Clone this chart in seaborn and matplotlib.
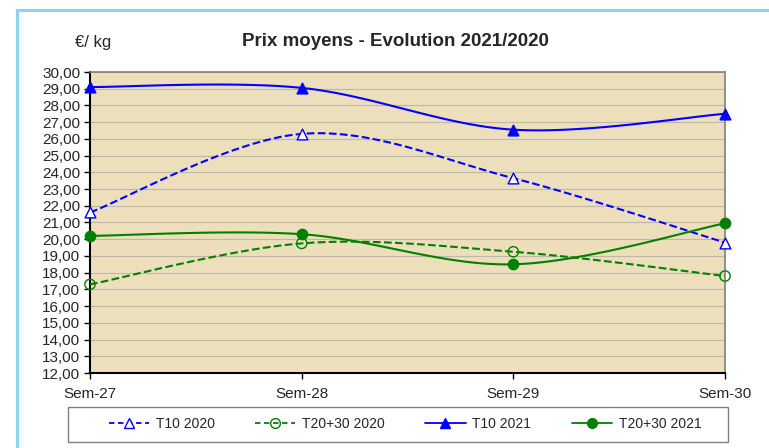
import numpy as np
import pandas as pd
import seaborn as sns
import matplotlib.pyplot as plt
from matplotlib.lines import Line2D
from matplotlib.patches import Rectangle

weeks = ['Sem-27', 'Sem-28', 'Sem-29', 'Sem-30']
t10_2020 = [21.6, 26.3, 23.65, 19.8]
t2030_2020 = [17.3, 19.75, 19.25, 17.8]
t10_2021 = [29.1, 29.05, 26.55, 27.5]
t2030_2021 = [20.2, 20.3, 18.5, 20.95]


def smooth(vals, n=40):
    # Excel-like smoothed line (Catmull-Rom as cubic Bezier)
    p = np.column_stack([np.arange(len(vals)), vals]).astype(float)
    ext = np.vstack([p[0], p, p[-1]])
    out = []
    for i in range(len(p) - 1):
        p0, p1, p2, p3 = ext[i], ext[i + 1], ext[i + 2], ext[i + 3]
        c1 = p1 + (p2 - p0) / 6
        c2 = p2 - (p3 - p1) / 6
        t = np.linspace(0, 1, n)[:, None]
        seg = (1 - t) ** 3 * p1 + 3 * (1 - t) ** 2 * t * c1 + 3 * (1 - t) * t ** 2 * c2 + t ** 3 * p2
        out.append(seg if i == 0 else seg[1:])
    out = np.vstack(out)
    return out[:, 0], out[:, 1]


sns.set_theme(style='white')
plt.rcParams['font.family'] = ['Liberation Sans', 'DejaVu Sans']

series = [
    ('T10 2020', t10_2020, '#0000FF', '--', '^', 'white'),
    ('T20+30 2020', t2030_2020, '#008000', '--', 'o', 'none'),
    ('T10 2021', t10_2021, '#0000FF', '-', '^', '#0000FF'),
    ('T20+30 2021', t2030_2021, '#008000', '-', 'o', '#008000'),
]

fig = plt.figure(figsize=(7.69, 4.48), dpi=100)
# outer chart frame (bottom edge falls outside the image)
fig.patches.append(Rectangle((17 / 769, -20 / 448), 760 / 769, 458 / 448,
                             transform=fig.transFigure, fill=False,
                             edgecolor='#8ED3F0', linewidth=2.2))
# legend frame
fig.patches.append(Rectangle((68 / 769, 1 - 442 / 448), 660 / 769, 35 / 448,
                             transform=fig.transFigure, fill=False,
                             edgecolor='#808080', linewidth=1.0))
ax = fig.add_axes([90 / 769, 1 - 373 / 448, 635 / 769, 301 / 448])
ax.set_facecolor('#EDDFBB')

for lab, vals, col, ls, mk, mfc in series:
    xs, ys = smooth(vals)
    ax.plot(xs, ys, color=col, linestyle=ls, linewidth=1.5, zorder=3)
    df = pd.DataFrame({'x': range(len(weeks)), 'y': vals})
    sns.scatterplot(data=df, x='x', y='y', ax=ax, marker=mk, s=60 if mk == '^' else 55,
                    color=mfc if mfc != 'none' else 'none', edgecolor=col,
                    linewidth=1.0, zorder=4, clip_on=False, legend=False)

ax.set_xlim(0, 3)
ax.set_ylim(12, 30)
ax.set_yticks(np.arange(12, 31, 1))
ax.set_yticklabels([f'{v:.2f}'.replace('.', ',') for v in np.arange(12, 31, 1)], fontsize=11)
ax.set_xticks(range(len(weeks)))
ax.set_xticklabels(weeks, fontsize=11)
ax.set_xlabel('')
ax.set_ylabel('')
ax.grid(axis='y', color='#BDB8AC', linewidth=0.8)
ax.set_axisbelow(True)
ax.tick_params(axis='both', which='both', length=4, width=1, color='black', pad=3, left=True, bottom=True)
ax.tick_params(axis='x', direction='out', pad=6)
for s in ['left', 'bottom']:
    ax.spines[s].set_color('black')
    ax.spines[s].set_linewidth(1.5)
for s in ['top', 'right']:
    ax.spines[s].set_color('#808080')
    ax.spines[s].set_linewidth(1.2)

fig.text(395 / 769, 1 - 42 / 448, 'Prix moyens - Evolution 2021/2020', ha='center', va='center',
         fontsize=13.5, fontweight='bold')
fig.text(75 / 769, 1 - 42 / 448, '€/ kg', ha='left', va='center', fontsize=12)

handles = [Line2D([], [], color=col, linestyle=ls, linewidth=1.3, marker=mk,
                  markerfacecolor=mfc, markeredgecolor=col, markersize=7,
                  dashes=(3, 2) if ls == '--' else (None, None))
           for lab, vals, col, ls, mk, mfc in series]
leg = fig.legend(handles, [s[0] for s in series], loc='center',
                 bbox_to_anchor=(405 / 769, 1 - 424 / 448), ncol=4, frameon=False,
                 fontsize=10, handlelength=2.9,
                 handletextpad=0.5, columnspacing=2.9)

fig.savefig('out.png', dpi=100)
